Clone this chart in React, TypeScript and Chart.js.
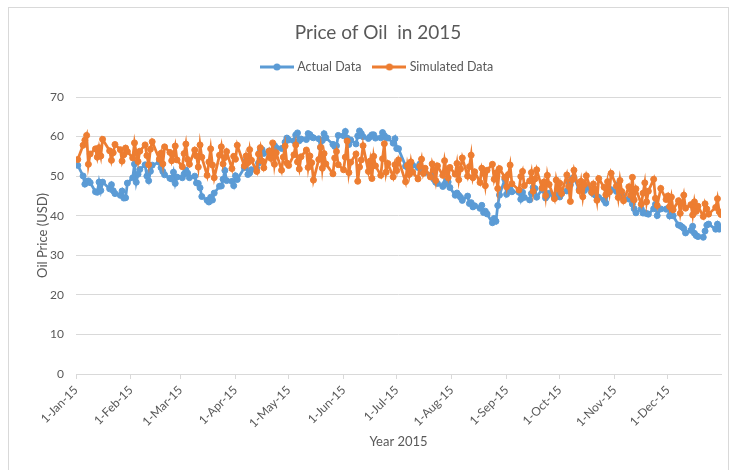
import React, { useEffect, useRef } from "react";
import { Chart, registerables } from "chart.js";

Chart.register(...registerables);

// Trading days of 2015 (month/day)
const tradingDates = [
  "1/2","1/5","1/6","1/7","1/8","1/9","1/12","1/13","1/14","1/15","1/16","1/20","1/21","1/22","1/23","1/26","1/27","1/28","1/29","1/30",
  "2/2","2/3","2/4","2/5","2/6","2/9","2/10","2/11","2/12","2/13","2/17","2/18","2/19","2/20","2/23","2/24","2/25","2/26","2/27",
  "3/2","3/3","3/4","3/5","3/6","3/9","3/10","3/11","3/12","3/13","3/16","3/17","3/18","3/19","3/20","3/23","3/24","3/25","3/26","3/27","3/30","3/31",
  "4/1","4/2","4/6","4/7","4/8","4/9","4/10","4/13","4/14","4/15","4/16","4/17","4/20","4/21","4/22","4/23","4/24","4/27","4/28","4/29","4/30",
  "5/1","5/4","5/5","5/6","5/7","5/8","5/11","5/12","5/13","5/14","5/15","5/18","5/19","5/20","5/21","5/22","5/26","5/27","5/28","5/29",
  "6/1","6/2","6/3","6/4","6/5","6/8","6/9","6/10","6/11","6/12","6/15","6/16","6/17","6/18","6/19","6/22","6/23","6/24","6/25","6/26","6/29","6/30",
  "7/1","7/2","7/6","7/7","7/8","7/9","7/10","7/13","7/14","7/15","7/16","7/17","7/20","7/21","7/22","7/23","7/24","7/27","7/28","7/29","7/30","7/31",
  "8/3","8/4","8/5","8/6","8/7","8/10","8/11","8/12","8/13","8/14","8/17","8/18","8/19","8/20","8/21","8/24","8/25","8/26","8/27","8/28","8/31",
  "9/1","9/2","9/3","9/4","9/8","9/9","9/10","9/11","9/14","9/15","9/16","9/17","9/18","9/21","9/22","9/23","9/24","9/25","9/28","9/29","9/30",
  "10/1","10/2","10/5","10/6","10/7","10/8","10/9","10/12","10/13","10/14","10/15","10/16","10/19","10/20","10/21","10/22","10/23","10/26","10/27","10/28","10/29","10/30",
  "11/2","11/3","11/4","11/5","11/6","11/9","11/10","11/11","11/12","11/13","11/16","11/17","11/18","11/19","11/20","11/23","11/24","11/25","11/27","11/30",
  "12/1","12/2","12/3","12/4","12/7","12/8","12/9","12/10","12/11","12/14","12/15","12/16","12/17","12/18","12/21","12/22","12/23","12/24","12/28","12/29","12/30","12/31",
];

const actualData = [
  52.72, 50.05, 47.98, 48.69, 48.8, 48.35, 46.06, 45.92, 48.49, 46.37, 48.49, 46.79, 47.85, 46.31, 45.59, 45.15, 46.23, 44.45, 44.53, 48.24,
  49.57, 53.05, 48.45, 50.48, 51.69, 52.86, 50.02, 48.84, 51.21, 52.78, 53.53, 52.14, 51.16, 50.34, 49.45, 49.27, 50.99, 48.17, 49.76,
  49.59, 50.52, 51.53, 50.76, 49.61, 50.0, 48.29, 48.17, 47.05, 44.84, 43.88, 43.46, 44.66, 43.96, 45.72, 47.45, 47.51, 49.21, 51.43, 48.87, 48.68, 47.6,
  50.09, 49.14, 52.14, 53.98, 50.42, 50.79, 51.64, 51.91, 53.29, 56.39, 56.71, 55.74, 56.38, 55.26, 56.16, 57.74, 57.15, 56.99, 57.06, 58.58, 59.63,
  59.15, 58.93, 60.4, 60.93, 58.94, 59.39, 59.25, 60.75, 60.5, 59.88, 59.69, 59.43, 57.26, 58.98, 60.72, 59.72, 58.03, 57.51, 57.68, 60.3,
  60.2, 61.3, 59.64, 58.0, 59.13, 58.14, 60.14, 61.43, 60.77, 59.96, 59.52, 59.97, 60.43, 60.45, 59.61, 59.68, 61.01, 60.27, 59.7, 59.63, 58.33, 59.47,
  56.96, 56.93, 52.53, 52.33, 51.65, 52.78, 52.74, 52.2, 53.04, 51.41, 50.91, 50.89, 50.15, 50.36, 49.19, 48.45, 48.14, 47.39, 47.98, 48.79, 48.52, 47.12,
  45.17, 45.74, 45.15, 44.66, 43.87, 44.96, 43.08, 43.3, 42.23, 42.5, 41.87, 42.62, 40.8, 41.14, 40.45, 38.22, 39.31, 38.6, 42.56, 45.22, 49.2,
  45.41, 46.25, 46.75, 46.05, 45.94, 44.15, 45.92, 44.63, 44.0, 45.59, 47.15, 46.9, 44.68, 46.68, 46.35, 44.48, 45.07, 45.7, 44.45, 45.23, 45.06,
  44.74, 45.54, 46.26, 48.53, 47.81, 49.43, 49.63, 46.66, 46.65, 46.38, 46.38, 47.26, 45.89, 45.55, 45.2, 44.93, 44.6, 43.98, 43.2, 45.94, 46.06, 46.59,
  46.14, 47.9, 46.32, 45.2, 44.29, 44.21, 44.22, 42.93, 41.75, 40.74, 41.74, 40.67, 40.75, 40.54, 40.39, 41.75, 42.87, 40.03, 41.71, 41.65,
  41.85, 39.94, 41.08, 39.97, 37.64, 37.51, 37.16, 36.76, 35.65, 36.31, 37.32, 35.55, 34.98, 34.73, 34.55, 36.12, 37.62, 37.89, 36.59, 37.87, 36.6, 37.04,
];

const simulatedData = [
  54.2, 57.8, 59.1, 60.3, 53.0, 55.6, 56.9, 54.8, 57.2, 55.1, 59.3, 56.4, 54.0, 55.9, 58.0, 56.7, 53.8, 55.4, 57.1, 56.2,
  54.6, 58.4, 55.9, 53.7, 56.3, 57.9, 55.2, 52.9, 56.8, 58.7, 54.3, 55.8, 53.1, 57.4, 56.0, 53.9, 55.5, 57.6, 54.1,
  52.4, 55.7, 58.1, 54.2, 53.0, 56.6, 55.1, 52.3, 57.9, 54.8, 50.2, 53.6, 56.9, 52.8, 49.6, 55.3, 57.4, 53.1, 54.7, 56.2, 51.9, 55.0,
  54.3, 57.8, 52.6, 55.1, 53.4, 56.7, 54.0, 51.2, 55.6, 57.2, 53.8, 52.1, 56.3, 54.5, 58.4, 53.0, 55.9, 51.5, 54.8, 57.6, 53.3,
  52.7, 55.4, 57.9, 53.6, 51.8, 54.9, 56.6, 52.2, 55.1, 53.4, 49.0, 54.2, 57.3, 52.0, 55.7, 53.1, 50.6, 54.6, 56.2, 52.9,
  51.6, 54.8, 58.9, 50.9, 53.5, 55.6, 48.7, 52.3, 54.1, 57.7, 51.2, 53.8, 49.4, 55.0, 52.6, 50.2, 54.4, 58.2, 51.0, 53.2, 49.8, 52.9,
  51.4, 54.1, 48.6, 52.7, 50.4, 53.6, 51.0, 49.3, 52.5, 54.3, 50.7, 52.0, 49.8, 53.1, 51.5, 48.9, 52.6, 50.2, 53.9, 51.3, 49.6, 52.2,
  50.5, 53.2, 49.1, 51.8, 54.6, 50.0, 52.4, 55.3, 49.6, 51.1, 48.4, 52.0, 50.7, 47.6, 51.5, 53.0, 49.2, 50.8, 46.9, 51.9, 49.7,
  47.3, 50.4, 52.8, 48.1, 46.5, 49.9, 51.2, 47.6, 48.8, 50.9, 46.2, 49.3, 51.6, 47.0, 48.5, 45.1, 50.2, 47.9, 44.3, 49.0, 46.8,
  48.2, 45.6, 50.3, 47.4, 43.6, 49.1, 51.5, 46.3, 48.7, 44.8, 47.9, 50.1, 45.9, 48.0, 46.7, 43.9, 49.4, 47.2, 45.3, 48.6, 46.0, 50.7,
  47.5, 44.6, 48.9, 46.1, 43.8, 47.3, 45.2, 49.7, 44.0, 46.8, 42.9, 45.7, 48.3, 43.5, 46.2, 49.2, 44.4, 42.6, 46.9, 44.1,
  45.0, 42.3, 44.7, 41.5, 43.8, 40.6, 43.1, 45.2, 41.9, 42.8, 40.2, 43.5, 41.1, 42.4, 39.8, 43.0, 41.7, 40.4, 42.1, 44.3, 41.0, 40.3,
];

const monthLabels = [
  "1-Jan-15", "1-Feb-15", "1-Mar-15", "1-Apr-15", "1-May-15", "1-Jun-15",
  "1-Jul-15", "1-Aug-15", "1-Sep-15", "1-Oct-15", "1-Nov-15", "1-Dec-15",
];

const seriesNames = ["Actual Data", "Simulated Data"];

const BLUE = "#5B9BD5";
const ORANGE = "#ED7D31";
const TEXT = "#595959";
const GRID = "#D9D9D9";

const DAY = 86400000;
const yearStart = Date.UTC(2015, 0, 1);
function dayIndex(md: string): number {
  const [m, d] = md.split("/").map(Number);
  return (Date.UTC(2015, m - 1, d) - yearStart) / DAY;
}
const monthStarts = monthLabels.map((_, i) => (Date.UTC(2015, i, 1) - yearStart) / DAY);
const lastDay = (Date.UTC(2015, 11, 31) - yearStart) / DAY;

function legendIcon(color: string): HTMLCanvasElement {
  const c = document.createElement("canvas");
  c.width = 34;
  c.height = 10;
  const ctx = c.getContext("2d")!;
  ctx.strokeStyle = color;
  ctx.lineWidth = 3;
  ctx.beginPath();
  ctx.moveTo(0, 5);
  ctx.lineTo(34, 5);
  ctx.stroke();
  ctx.fillStyle = color;
  ctx.beginPath();
  ctx.arc(17, 5, 3.5, 0, Math.PI * 2);
  ctx.fill();
  return c;
}

export default function App() {
  const canvasRef = useRef<HTMLCanvasElement | null>(null);

  useEffect(() => {
    if (!canvasRef.current) return;
    Chart.defaults.font.family = "Lato, 'Open Sans', sans-serif";
    const icons = [legendIcon(BLUE), legendIcon(ORANGE)];

    const chart = new Chart(canvasRef.current, {
      type: "line",
      data: {
        datasets: [
          {
            label: seriesNames[0],
            data: tradingDates.map((d, i) => ({ x: dayIndex(d), y: actualData[i] })),
            borderColor: BLUE,
            backgroundColor: BLUE,
            borderWidth: 2.75,
            pointRadius: 3,
            pointBorderWidth: 1,
            pointBackgroundColor: BLUE,
            pointBorderColor: BLUE,
            tension: 0,
            order: 1,
          },
          {
            label: seriesNames[1],
            data: tradingDates.map((d, i) => ({ x: dayIndex(d), y: simulatedData[i] })),
            borderColor: ORANGE,
            backgroundColor: ORANGE,
            borderWidth: 2.75,
            pointRadius: 3,
            pointBorderWidth: 1,
            pointBackgroundColor: ORANGE,
            pointBorderColor: ORANGE,
            tension: 0,
            order: 0,
          },
        ],
      },
      options: {
        animation: false,
        responsive: false,
        devicePixelRatio: 1,
        events: [],
        layout: { padding: { left: 35, right: 13, top: 0, bottom: 10 } },
        plugins: {
          title: {
            display: true,
            text: "Price of Oil  in 2015",
            color: TEXT,
            font: { size: 19, weight: "normal" },
            padding: { top: 21.6, bottom: 2.35 },
          },
          subtitle: {
            display: true,
            text: "",
            weight: 500,
            font: { size: 13.75, lineHeight: 1 },
            padding: 0,
          } as any,
          legend: {
            display: true,
            position: "top",
            labels: {
              usePointStyle: true,
              pointStyleWidth: 28,
              color: TEXT,
              font: { size: 12.5 },
              padding: 14,
              sort: (a: any, b: any) => a.datasetIndex - b.datasetIndex,
              generateLabels: (ch: any) =>
                Chart.defaults.plugins.legend.labels
                  .generateLabels(ch)
                  .map((l: any) => ({ ...l, pointStyle: icons[l.datasetIndex] })),
            },
          },
          tooltip: { enabled: false },
        },
        scales: {
          x: {
            type: "linear",
            min: 0,
            max: lastDay,
            afterBuildTicks: (scale: any) => {
              scale.ticks = monthStarts.map((v) => ({ value: v }));
            },
            afterFit: (scale: any) => {
              scale.height = 86;
            },
            ticks: {
              autoSkip: false,
              maxRotation: 45,
              minRotation: 45,
              color: TEXT,
              font: { size: 12 },
              padding: 4,
              callback: (value: any) => {
                const i = monthStarts.indexOf(Number(value));
                return i >= 0 ? monthLabels[i] : "";
              },
            },
            grid: {
              display: true,
              drawOnChartArea: false,
              drawTicks: true,
              tickLength: 5,
              color: GRID,
            },
            border: { display: true, color: GRID, width: 1 },
            title: {
              display: true,
              text: "Year 2015",
              color: TEXT,
              font: { size: 13 },
              padding: { top: 0, bottom: 10 },
            },
          },
          y: {
            min: 0,
            max: 70,
            afterFit: (scale: any) => {
              scale.width = 41;
            },
            ticks: {
              stepSize: 10,
              color: TEXT,
              font: { size: 12 },
              padding: 12,
            },
            grid: { color: GRID, drawTicks: false },
            border: { display: false },
            title: {
              display: true,
              text: "Oil Price (USD)",
              color: TEXT,
              font: { size: 13 },
              padding: { top: 0, bottom: 0 },
            },
          },
        },
      } as any,
    });

    return () => chart.destroy();
  }, []);

  return (
    <div style={{ position: "absolute", left: 0, top: 0, width: 734, height: 470, background: "#fff", overflow: "hidden" }}>
      <canvas ref={canvasRef} width={734} height={470} style={{ display: "block" }} />
      <div
        style={{
          position: "absolute",
          left: 8,
          top: 7,
          width: 719,
          height: 480,
          border: "1px solid #D9D9D9",
          pointerEvents: "none",
        }}
      />
    </div>
  );
}
